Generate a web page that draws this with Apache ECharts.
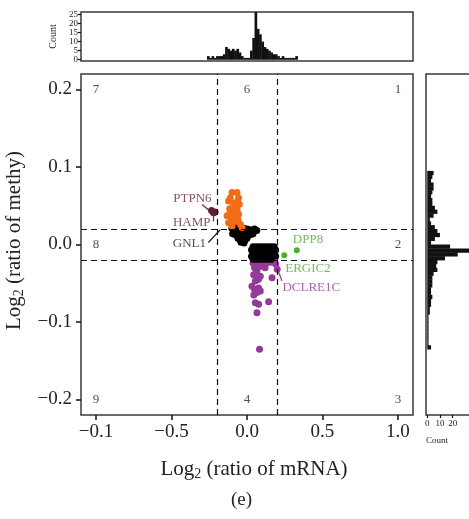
<!DOCTYPE html>
<html>
<head>
<meta charset="utf-8">
<script src="https://cdn.jsdelivr.net/npm/echarts@6/dist/echarts.min.js"></script>
<style>
html,body{margin:0;padding:0;background:#fff}
#chart{width:469px;height:519px}
</style>
</head>
<body>
<div id="chart"></div>
<script>
// axis ticks
var xTickValues = [-1, -0.5, 0, 0.5, 1];
var xTickLabels = ['\u22120.1', '\u22120.5', '0.0', '0.5', '1.0'];
var yTickValues = [-0.2, -0.1, 0, 0.1, 0.2];
var cutX = [-0.2, 0.2];
var cutY = [0.02, -0.02];

// top histogram (log2 mRNA), bins of 0.015 starting at -0.265
var topBinStart = -0.265, topBinWidth = 0.015;
var topCounts = [2,1,2,1,2,2,2,3,7,6,5,6,5,6,4,2,1,1,1,5,12,27,17,14,10,7,6,5,4,3,3,2,1,2,1,1,1,1,1,2];
var topCountTicks = [0, 5, 10, 15, 20, 25];

// right histogram (log2 methy), bins of 0.005 starting at -0.135
var rightBinStart = -0.135, rightBinWidth = 0.005;
var rightCounts = [3,1,1,1,1,1,1,1,1,2,2,3,3,4,3,3,4,4,4,5,8,7,8,14,24,35,18,3,6,10,8,6,3,2,5,8,6,4,4,3,4,5,5,3,4,5];
var rightCountTicks = [0, 10, 20];

// scatter groups [log2 mRNA, log2 methy]
var purplePts = [[0.04,-0.024],[0.07,-0.025],[0.10,-0.023],[0.13,-0.024],[0.16,-0.023],[0.19,-0.025],
  [0.05,-0.030],[0.09,-0.028],[0.12,-0.030],[0.066,-0.034],[0.20,-0.032],[0.044,-0.039],[0.088,-0.041],
  [0.06,-0.037],[0.166,-0.043],[0.055,-0.047],[0.075,-0.045],[0.033,-0.054],[0.077,-0.056],[0.05,-0.058],
  [0.066,-0.062],[0.088,-0.060],[0.045,-0.065],[0.055,-0.075],[0.077,-0.077],[0.143,-0.074],[0.066,-0.088],
  [0.083,-0.135]];
var blackPts = [[-0.10,0.021],[-0.09,0.018],[-0.08,0.022],[-0.07,0.019],[-0.06,0.021],[-0.05,0.018],[-0.04,0.020],
  [-0.03,0.017],[-0.02,0.021],[-0.01,0.018],[0.00,0.020],[0.01,0.017],[0.02,0.019],[0.035,0.018],[0.05,0.020],
  [0.065,0.018],[-0.095,0.014],[-0.08,0.013],[-0.065,0.014],[-0.05,0.012],[-0.035,0.013],[-0.02,0.011],
  [-0.005,0.013],[0.01,0.012],[0.025,0.013],[0.04,0.014],[-0.06,0.008],[-0.045,0.006],[-0.03,0.008],
  [-0.015,0.005],[0.0,0.008],[-0.04,0.003],[-0.02,0.002],
  [0.04,-0.003],[0.06,-0.003],[0.08,-0.003],[0.10,-0.003],[0.12,-0.003],[0.14,-0.003],[0.16,-0.003],[0.18,-0.003],
  [0.03,-0.007],[0.05,-0.007],[0.07,-0.007],[0.09,-0.007],[0.11,-0.007],[0.13,-0.007],[0.15,-0.007],[0.17,-0.007],[0.19,-0.007],
  [0.04,-0.011],[0.06,-0.011],[0.08,-0.011],[0.10,-0.011],[0.12,-0.011],[0.14,-0.011],[0.16,-0.011],[0.18,-0.011],
  [0.03,-0.015],[0.05,-0.015],[0.07,-0.015],[0.09,-0.015],[0.11,-0.015],[0.13,-0.015],[0.15,-0.015],[0.17,-0.015],[0.19,-0.015],
  [0.04,-0.019],[0.06,-0.019],[0.08,-0.019],[0.10,-0.019],[0.12,-0.019],[0.14,-0.019],[0.16,-0.019]];
var orangePts = [[-0.099,0.067],[-0.066,0.067],[-0.111,0.060],[-0.056,0.060],[-0.122,0.056],[-0.077,0.054],
  [-0.051,0.052],[-0.095,0.047],[-0.066,0.045],[-0.111,0.041],[-0.056,0.039],[-0.132,0.037],[-0.099,0.034],
  [-0.077,0.030],[-0.122,0.028],[-0.044,0.026],[-0.099,0.024],[-0.033,0.022],[-0.088,0.050],[-0.105,0.028],
  [-0.060,0.032],[-0.082,0.040],[-0.115,0.046]];
var greenPts = [[0.33,-0.0073],[0.247,-0.0138]];
var maroonPts = [[-0.235,0.044],[-0.222,0.041],[-0.212,0.042]];

// gene labels
var geneNames = ['PTPN6', 'HAMP', 'GNL1', 'DPP8', 'ERGIC2', 'DCLRE1C'];
var genePos = [[-0.362,0.059],[-0.366,0.028],[-0.382,0.001],[0.404,0.0065],[0.404,-0.031],[0.426,-0.055]];
var geneColors = ['#6b2636', '#6b2636', '#222', '#4cae2c', '#4cae2c', '#963a9a'];
var leaderLines = [
  [[-0.298,0.0516],[-0.232,0.041]],
  [[-0.221,0.0297],[-0.221,0.041]],
  [[-0.256,0.0026],[-0.177,0.019]],
  [[0.203,-0.032],[0.232,-0.047]]
];
var leaderColors = ['#6b2636', '#6b2636', '#222', '#963a9a'];

// quadrant numbers
var quadNames = ['7','6','1','8','2','9','4','3'];
var quadPos = [[-1,0.2],[0,0.2],[1,0.2],[-1,0],[1,0],[-1,-0.2],[0,-0.2],[1,-0.2]];

var serif = 'Liberation Serif';
var chart = echarts.init(document.getElementById('chart'));

function fmtY(v) {
  return v < 0 ? '\u2212' + Math.abs(v).toFixed(1) : v.toFixed(1);
}

var nameRich = {
  b: {fontFamily: serif, fontSize: 21, color: '#222'},
  s: {fontFamily: serif, fontSize: 14, color: '#222', padding: [10, 0, 0, 0]}
};
var noLine = {show: false, onZero: false};
var smallLabel = {fontFamily: serif, fontSize: 9, color: '#222', hideOverlap: false, showMinLabel: true, showMaxLabel: true};

var option = {
  animation: false,
  backgroundColor: '#fff',
  textStyle: {fontFamily: serif},
  grid: [
    {left: 81, top: 74, width: 332, height: 341, show: true, borderColor: '#3a3a3a', borderWidth: 1.5, outerBoundsMode: 'none'},
    {left: 81, top: 12, width: 332, height: 49, show: true, borderColor: '#3a3a3a', borderWidth: 1.5, outerBoundsMode: 'none'},
    {left: 426, top: 74, width: 52, height: 341, show: true, borderColor: '#3a3a3a', borderWidth: 1.5, outerBoundsMode: 'none'}
  ],
  xAxis: [
    {
      gridIndex: 0, type: 'value', min: -1.1, max: 1.1,
      axisLine: noLine, splitLine: {show: false},
      axisTick: {customValues: xTickValues, length: 5, lineStyle: {color: '#111', width: 1.5}},
      axisLabel: {customValues: xTickValues, fontFamily: serif, fontSize: 19, color: '#222', margin: 8,
        formatter: function (v) { return xTickLabels[xTickValues.indexOf(v)]; }},
      name: '{b|Log}{s|2}{b| (ratio of mRNA)}', nameLocation: 'middle', nameGap: 42,
      nameTextStyle: {rich: nameRich, padding: [0, 0, 0, 14]}
    },
    {
      gridIndex: 1, type: 'value', min: -1.1, max: 1.1,
      axisLine: noLine, splitLine: {show: false}, axisTick: {show: false}, axisLabel: {show: false}
    },
    {
      gridIndex: 2, type: 'value', min: -1, max: 40,
      axisLine: noLine, splitLine: {show: false},
      axisTick: {customValues: rightCountTicks, length: 3, lineStyle: {color: '#111', width: 1.2}},
      axisLabel: Object.assign({customValues: rightCountTicks, margin: 4}, smallLabel),
      name: 'Count', nameLocation: 'middle', nameGap: 21,
      nameTextStyle: {fontFamily: serif, fontSize: 9, color: '#222', align: 'left', padding: [0, 0, 0, -26]}
    }
  ],
  yAxis: [
    {
      gridIndex: 0, type: 'value', min: -0.22, max: 0.22,
      axisLine: noLine, splitLine: {show: false},
      axisTick: {customValues: yTickValues, length: 5, lineStyle: {color: '#111', width: 1.5}},
      axisLabel: {customValues: yTickValues, fontFamily: serif, fontSize: 19, color: '#222', margin: 9, formatter: fmtY},
      name: '{b|Log}{s|2}{b| (ratio of methy)}', nameLocation: 'middle', nameGap: 50, nameRotate: 90,
      nameTextStyle: {rich: nameRich, padding: [0, 0, 0, 8]}
    },
    {
      gridIndex: 1, type: 'value', min: -0.7, max: 26.3,
      axisLine: noLine, splitLine: {show: false},
      axisTick: {customValues: topCountTicks, length: 3, lineStyle: {color: '#111', width: 1.2}},
      axisLabel: Object.assign({customValues: topCountTicks, margin: 3, lineHeight: 9}, smallLabel),
      name: 'Count', nameLocation: 'middle', nameGap: 14, nameRotate: 90,
      nameTextStyle: {fontFamily: serif, fontSize: 10, color: '#222'}
    },
    {
      gridIndex: 2, type: 'value', min: -0.22, max: 0.22,
      axisLine: noLine, splitLine: {show: false}, axisTick: {show: false}, axisLabel: {show: false}
    }
  ],
  graphic: [
    {type: 'text', left: 231, top: 491, style: {text: '(e)', font: '19px "Liberation Serif"', fill: '#222'}}
  ],
  series: [
    {
      type: 'custom', xAxisIndex: 1, yAxisIndex: 1, clip: true, silent: true,
      data: topCounts.map(function (c, i) { return [topBinStart + i * topBinWidth, c]; }),
      renderItem: function (params, api) {
        var x0 = api.value(0), c = api.value(1);
        var p0 = api.coord([x0, 0]), p1 = api.coord([x0 + topBinWidth, c]);
        return {type: 'rect', shape: {x: p0[0], y: p1[1], width: p1[0] - p0[0] + 0.4, height: p0[1] - p1[1]},
          style: {fill: '#111'}};
      }
    },
    {
      type: 'custom', xAxisIndex: 2, yAxisIndex: 2, clip: true, silent: true,
      data: rightCounts.map(function (c, i) { return [rightBinStart + i * rightBinWidth, c]; }),
      renderItem: function (params, api) {
        var y0 = api.value(0), c = api.value(1);
        var p0 = api.coord([0, y0]), p1 = api.coord([c, y0 + rightBinWidth]);
        return {type: 'rect', shape: {x: p0[0], y: p1[1], width: p1[0] - p0[0], height: p0[1] - p1[1] + 0.4},
          style: {fill: '#111'}};
      },
      encode: {x: 1, y: 0}
    },
    {type: 'scatter', data: purplePts, symbolSize: 7, itemStyle: {color: '#963a9a', opacity: 1}, silent: true},
    {type: 'scatter', data: blackPts, symbolSize: 7, itemStyle: {color: '#000', opacity: 1}, silent: true},
    {type: 'scatter', data: orangePts, symbolSize: 7, itemStyle: {color: '#f26c16', opacity: 1}, silent: true},
    {type: 'scatter', data: greenPts, symbolSize: 6, itemStyle: {color: '#4cae2c', opacity: 1}, silent: true},
    {type: 'scatter', data: maroonPts, symbolSize: 7, itemStyle: {color: '#5e2030', opacity: 1}, silent: true},
    {
      type: 'lines', coordinateSystem: 'cartesian2d', silent: true,
      data: leaderLines.map(function (c, i) { return {coords: c, lineStyle: {color: leaderColors[i], width: 1.2}}; }),
      lineStyle: {opacity: 1}
    },
    {
      type: 'scatter', symbolSize: 0, silent: true,
      data: geneNames.map(function (n, i) {
        return {name: n, value: genePos[i], label: {color: geneColors[i]}};
      }),
      label: {show: true, position: 'inside', formatter: '{b}', fontFamily: serif, fontSize: 13}
    },
    {
      type: 'scatter', symbolSize: 0, silent: true,
      data: quadNames.map(function (n, i) { return {name: n, value: quadPos[i]}; }),
      label: {show: true, position: 'inside', formatter: '{b}', fontFamily: serif, fontSize: 13, color: '#222'},
      markLine: {
        silent: true, symbol: 'none', animation: false,
        label: {show: false},
        lineStyle: {color: '#111', width: 1.2, type: [6, 4]},
        data: cutX.map(function (v) { return {xAxis: v}; }).concat(cutY.map(function (v) { return {yAxis: v}; }))
      }
    }
  ]
};
chart.setOption(option);
</script>
</body>
</html>
